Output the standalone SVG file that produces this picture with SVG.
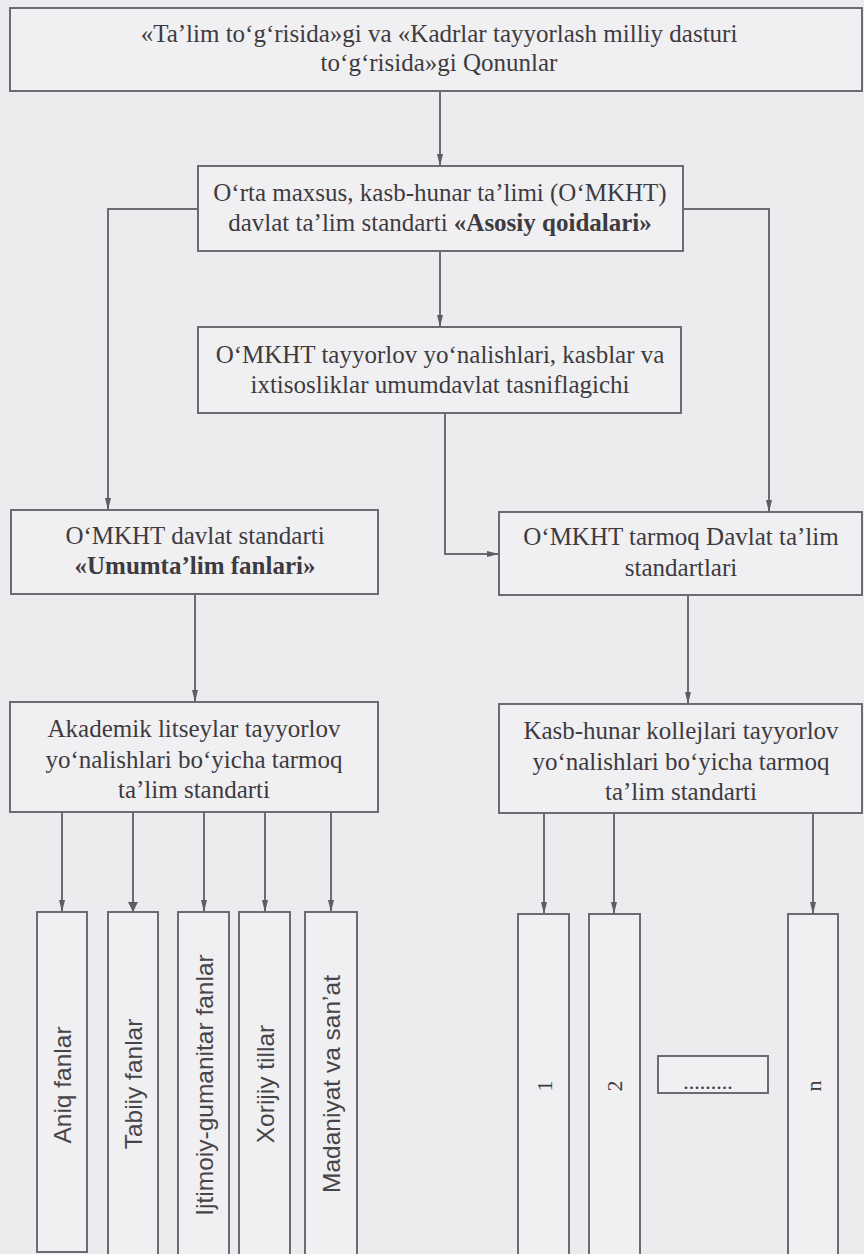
<svg xmlns="http://www.w3.org/2000/svg" width="864" height="1254" viewBox="0 0 864 1254">
<style>
.bg{fill:#ecebee}
.box{fill:#f0eff1;stroke:#6c6a72;stroke-width:2}
.t{font-family:"Liberation Serif","Times New Roman",serif;font-size:25px;fill:#3d3b40;text-anchor:middle}
.d{font-family:"Liberation Serif","Times New Roman",serif;font-size:22px;fill:#3d3b40;text-anchor:middle}
.b{font-weight:bold}
.s{font-family:"Liberation Sans",Arial,sans-serif;font-size:24.5px;fill:#47454a;text-anchor:middle}
.c{fill:none;stroke:#6c6a72;stroke-width:2}
</style>
<defs>
<marker id="arr" markerUnits="userSpaceOnUse" viewBox="0 0 12 6" markerWidth="12" markerHeight="6" refX="12" refY="3" orient="auto">
<path d="M0,0 L12,3 L0,6 z" fill="#5e5c64"/>
</marker>
<marker id="arrW" markerUnits="userSpaceOnUse" viewBox="0 0 10 10" markerWidth="10" markerHeight="10" refX="10" refY="5" orient="auto">
<path d="M0,0 L10,5 L0,10 z" fill="#5e5c64"/>
</marker>
<linearGradient id="shade" x1="0" y1="0" x2="1" y2="0">
<stop offset="0" stop-color="#d9d7db"/>
<stop offset="0.08" stop-color="#ebe9ec"/>
<stop offset="1" stop-color="#eeedf0"/>
</linearGradient>
</defs>
<rect class="bg" x="0" y="0" width="864" height="1254" fill="url(#shade)"/>

<g id="connectors">
<path class="c" d="M440,91 V166" marker-end="url(#arr)"/>
<path class="c" d="M440,251 V327" marker-end="url(#arr)"/>
<path class="c" d="M198,209 H108 V510" marker-end="url(#arr)"/>
<path class="c" d="M683,209 H769 V512" marker-end="url(#arr)"/>
<path class="c" d="M445,413 V554 H499" marker-end="url(#arr)"/>
<path class="c" d="M195,594 V702" marker-end="url(#arr)"/>
<path class="c" d="M688,595 V704" marker-end="url(#arr)"/>
<path class="c" d="M62,812 V912" marker-end="url(#arr)"/>
<path class="c" d="M133,812 V912" marker-end="url(#arrW)"/>
<path class="c" d="M204,812 V912" marker-end="url(#arr)"/>
<path class="c" d="M265,812 V912" marker-end="url(#arr)"/>
<path class="c" d="M331,812 V912" marker-end="url(#arr)"/>
<path class="c" d="M544,813 V914" marker-end="url(#arr)"/>
<path class="c" d="M614,813 V914" marker-end="url(#arr)"/>
<path class="c" d="M813,813 V914" marker-end="url(#arr)"/>
</g>

<g id="laws">
<rect class="box" x="10" y="8" width="852" height="83"/>
<text class="t" x="439" y="42">«Taʼlim toʻgʻrisida»gi va «Kadrlar tayyorlash milliy dasturi</text>
<text class="t" x="439" y="71">toʻgʻrisida»gi Qonunlar</text>
</g>

<g id="asosiy">
<rect class="box" x="198" y="166" width="485" height="85"/>
<text class="t" x="440" y="201">Oʻrta maxsus, kasb-hunar taʼlimi (OʻMKHT)</text>
<text class="t" x="440" y="231">davlat taʼlim standarti <tspan class="b">«Asosiy qoidalari»</tspan></text>
</g>

<g id="tasniflagich">
<rect class="box" x="198" y="327" width="483" height="86"/>
<text class="t" x="440" y="363">OʻMKHT tayyorlov yoʻnalishlari, kasblar va</text>
<text class="t" x="440" y="393">ixtisosliklar umumdavlat tasniflagichi</text>
</g>

<g id="umumtalim">
<rect class="box" x="11" y="510" width="367" height="84"/>
<text class="t" x="195" y="544">OʻMKHT davlat standarti</text>
<text class="t b" x="195" y="574">«Umumtaʼlim fanlari»</text>
</g>

<g id="tarmoq">
<rect class="box" x="499" y="512" width="363" height="83"/>
<text class="t" x="681" y="545">OʻMKHT tarmoq Davlat taʼlim</text>
<text class="t" x="681" y="576">standartlari</text>
</g>

<g id="akademik">
<rect class="box" x="10" y="702" width="368" height="110"/>
<text class="t" x="194" y="737">Akademik litseylar tayyorlov</text>
<text class="t" x="194" y="768">yoʻnalishlari boʻyicha tarmoq</text>
<text class="t" x="194" y="798">taʼlim standarti</text>
</g>

<g id="kasb">
<rect class="box" x="499" y="704" width="363" height="109"/>
<text class="t" x="681" y="739">Kasb-hunar kollejlari tayyorlov</text>
<text class="t" x="681" y="770">yoʻnalishlari boʻyicha tarmoq</text>
<text class="t" x="681" y="800">taʼlim standarti</text>
</g>

<g id="aniq">
<rect class="box" x="37" y="912" width="50" height="340"/>
<text class="s" transform="translate(62,1085) rotate(-90)" dy="0.35em">Aniq fanlar</text>
</g>
<g id="tabiiy">
<rect class="box" x="108" y="912" width="50" height="350"/>
<text class="s" transform="translate(133,1084) rotate(-90)" dy="0.35em">Tabiiy fanlar</text>
</g>
<g id="ijtimoiy">
<rect class="box" x="178" y="912" width="51" height="350"/>
<text class="s" transform="translate(204,1085) rotate(-90)" dy="0.35em">Ijtimoiy-gumanitar fanlar</text>
</g>
<g id="xorijiy">
<rect class="box" x="239" y="912" width="51" height="350"/>
<text class="s" transform="translate(265,1084) rotate(-90)" dy="0.35em">Xorijiy tillar</text>
</g>
<g id="madaniyat">
<rect class="box" x="305" y="912" width="52" height="350"/>
<text class="s" transform="translate(331,1084) rotate(-90)" dy="0.35em">Madaniyat va sanʼat</text>
</g>

<g id="k1">
<rect class="box" x="518" y="914" width="51" height="350"/>
<text class="d" transform="translate(544,1086) rotate(-90)" dy="0.35em">1</text>
</g>
<g id="k2">
<rect class="box" x="589" y="914" width="51" height="350"/>
<text class="d" transform="translate(614,1086) rotate(-90)" dy="0.35em">2</text>
</g>
<g id="kdots">
<rect class="box" x="658" y="1056" width="110" height="37"/>
<text class="d" x="708" y="1089">.........</text>
</g>
<g id="kn">
<rect class="box" x="788" y="914" width="50" height="350"/>
<text class="d" transform="translate(813,1086) rotate(-90)" dy="0.35em">n</text>
</g>
</svg>
